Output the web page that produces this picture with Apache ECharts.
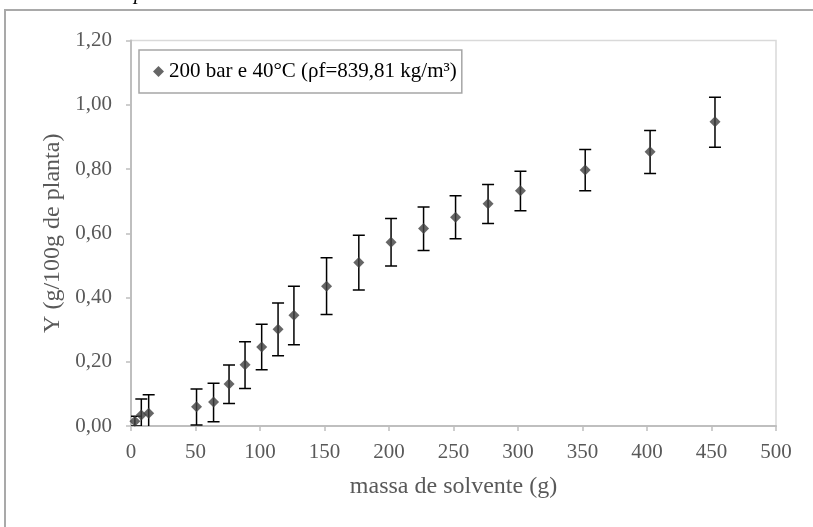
<!DOCTYPE html>
<html>
<head>
<meta charset="utf-8">
<script src="https://cdn.jsdelivr.net/npm/echarts@6/dist/echarts.min.js"></script>
<style>
  html, body { margin: 0; padding: 0; background: #ffffff; }
  #chart { width: 813px; height: 527px; }
</style>
</head>
<body>
<div id="chart"></div>
<script>
// ---- Data ----
const seriesName = '200 bar e 40°C (ρf=839,81 kg/m³)';
const massa = [3, 8, 13.7, 50.8, 64, 76, 88.4, 101.3, 114, 126.3, 151.6, 176.6, 201.6, 226.8, 251.6, 276.8, 301.9, 352.1, 402.4, 452.7];
const rendimento = [0.015, 0.034, 0.040, 0.060, 0.075, 0.131, 0.191, 0.246, 0.301, 0.345, 0.435, 0.509, 0.572, 0.615, 0.650, 0.692, 0.732, 0.797, 0.854, 0.947];
const erroSuperior = [0.030, 0.084, 0.097, 0.115, 0.133, 0.190, 0.262, 0.317, 0.383, 0.435, 0.524, 0.594, 0.646, 0.682, 0.717, 0.752, 0.793, 0.861, 0.920, 1.023];
const erroInferior = [0.000, -0.016, -0.017, 0.003, 0.013, 0.070, 0.117, 0.175, 0.219, 0.253, 0.347, 0.423, 0.498, 0.546, 0.583, 0.630, 0.670, 0.732, 0.786, 0.868];
const xTickLabels = ['0', '50', '100', '150', '200', '250', '300', '350', '400', '450', '500'];
const yTickLabels = ['0,00', '0,20', '0,40', '0,60', '0,80', '1,00', '1,20'];
const xTitle = 'massa de solvente (g)';
const yTitle = 'Y (g/100g de planta)';

const FONT = "'Liberation Serif', 'Times New Roman', serif";

const points = massa.map((x, i) => [x, rendimento[i]]);
const bars = massa.map((x, i) => [x, erroInferior[i], erroSuperior[i]]);

const chart = echarts.init(document.getElementById('chart'), null, { renderer: 'canvas' });

chart.setOption({
  backgroundColor: '#ffffff',
  animation: false,
  graphic: [
    {
      type: 'rect',
      shape: { x: 5, y: 10, width: 900, height: 600 },
      style: { fill: 'none', stroke: '#a9a9a9', lineWidth: 2 },
      silent: true, z: -10
    },
    {
      type: 'text',
      left: 134, top: -17,
      style: { text: 'p', font: "italic 21px 'Liberation Serif', serif", fill: '#000000' },
      silent: true
    }
  ],
  grid: {
    left: 131, right: 37, top: 40.5, bottom: 101,
    show: true, borderColor: '#d9d9d9', borderWidth: 1.5, backgroundColor: 'transparent'
  },
  legend: {
    left: 139, top: 50,
    orient: 'vertical',
    padding: [11, 5, 11, 14],
    borderColor: '#a6a6a6', borderWidth: 1.5,
    itemWidth: 11, itemHeight: 11,
    textStyle: { fontFamily: FONT, fontSize: 21, color: '#000000' },
    data: [{ name: seriesName, icon: 'diamond' }]
  },
  xAxis: {
    type: 'value',
    min: 0, max: 500, interval: 50,
    name: xTitle,
    nameLocation: 'middle',
    nameGap: 49,
    nameTextStyle: { fontFamily: FONT, fontSize: 24, color: '#595959' },
    axisLine: { show: true, lineStyle: { color: '#bfbfbf', width: 2 } },
    axisTick: { show: true, length: 5, lineStyle: { color: '#bfbfbf', width: 1.5 } },
    axisLabel: {
      margin: 16,
      fontFamily: FONT, fontSize: 21, color: '#595959',
      formatter: (v) => xTickLabels[Math.round(v / 50)]
    },
    splitLine: { show: false }
  },
  yAxis: {
    type: 'value',
    min: 0, max: 1.2, interval: 0.2,
    name: yTitle,
    nameLocation: 'middle',
    nameGap: 58,
    nameTextStyle: { fontFamily: FONT, fontSize: 24, color: '#595959' },
    axisLine: { show: true, lineStyle: { color: '#bfbfbf', width: 2 } },
    axisTick: { show: true, length: 5, lineStyle: { color: '#bfbfbf', width: 1.5 } },
    axisLabel: {
      margin: 19,
      fontFamily: FONT, fontSize: 21, color: '#595959',
      formatter: (v) => yTickLabels[Math.round(v / 0.2)]
    },
    splitLine: { show: false }
  },
  series: [
    {
      type: 'custom',
      name: 'erro',
      clip: true,
      z: 1,
      data: bars,
      renderItem: function (params, api) {
        const x = api.value(0);
        const lo = api.coord([x, api.value(1)]);
        const hi = api.coord([x, api.value(2)]);
        const hw = 6;
        const style = { stroke: '#000000', lineWidth: 1.5 };
        return {
          type: 'group',
          children: [
            { type: 'line', shape: { x1: lo[0], y1: lo[1], x2: hi[0], y2: hi[1] }, style: style },
            { type: 'line', shape: { x1: hi[0] - hw, y1: hi[1], x2: hi[0] + hw, y2: hi[1] }, style: style },
            { type: 'line', shape: { x1: lo[0] - hw, y1: lo[1], x2: lo[0] + hw, y2: lo[1] }, style: style }
          ]
        };
      }
    },
    {
      type: 'scatter',
      name: seriesName,
      symbol: 'diamond',
      symbolSize: 11,
      z: 3,
      itemStyle: { color: '#404040' },
      data: points
    }
  ]
});
</script>
</body>
</html>
